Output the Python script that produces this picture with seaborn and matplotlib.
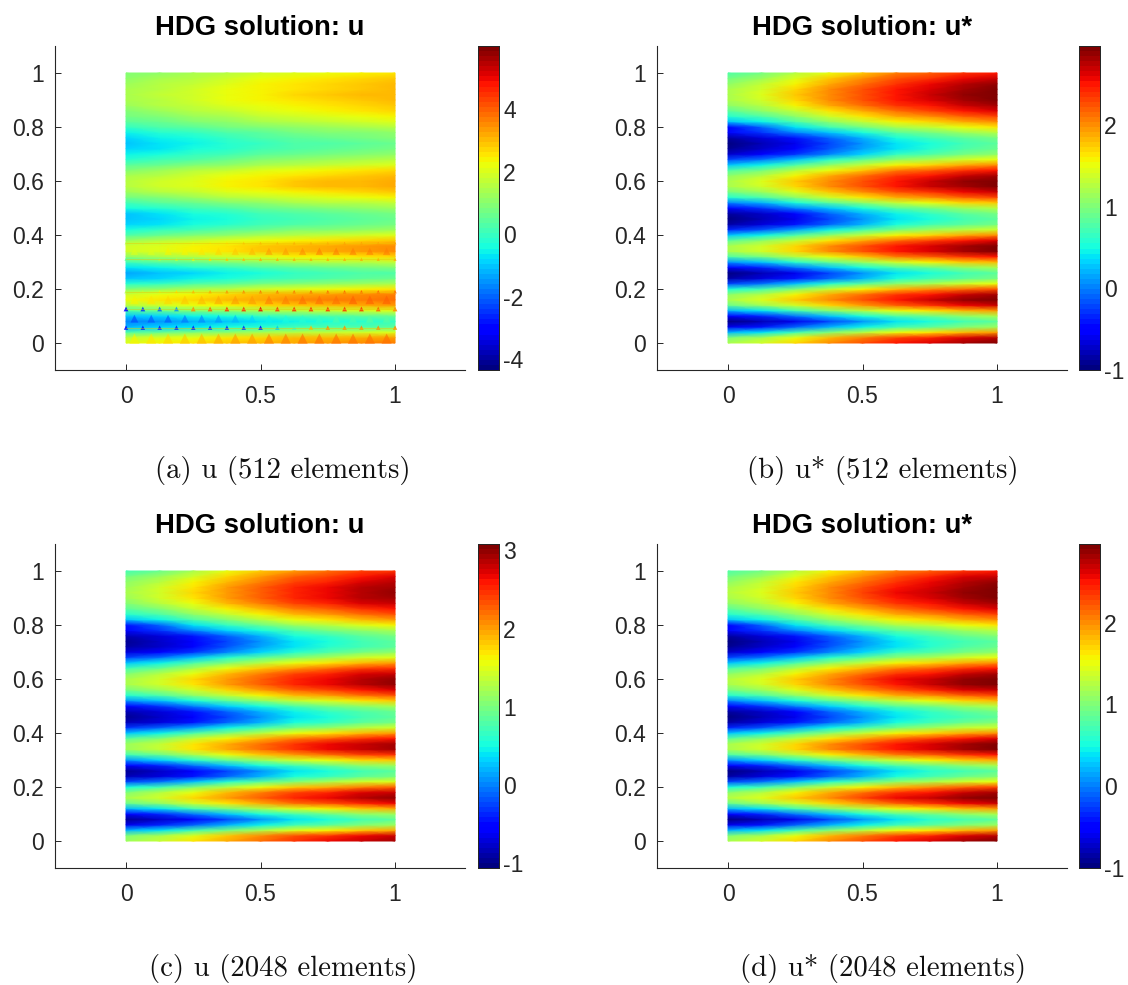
#!/usr/bin/env python3
"""HDG solution fields on coarse and fine meshes."""

import matplotlib
matplotlib.use("Agg")
import matplotlib.pyplot as plt
import seaborn as sns

# node values: rows run y = 0, 0.02, ... 1 (bottom to top),
# columns run x = 0, 0.125, ... 1
u_512 = [
    [2.05, 2.3, 2.55, 2.8, 3.05, 3.25, 3.4, 3.55, 3.7],
    [1.75, 2.0, 2.25, 2.5, 2.75, 2.95, 3.1, 3.25, 3.4],
    [0.35, 0.6, 0.85, 1.1, 1.35, 1.55, 1.7, 1.85, 2.0],
    [-1.15, -0.9, -0.65, -0.4, -0.15, 0.05, 0.2, 0.35, 0.5],
    [-1.75, -1.5, -1.25, -1.0, -0.75, -0.55, -0.4, -0.25, -0.1],
    [-1.05, -0.8, -0.55, -0.3, -0.05, 0.15, 0.3, 0.45, 0.6],
    [0.35, 0.6, 0.85, 1.1, 1.35, 1.55, 1.7, 1.85, 2.0],
    [1.65, 1.9, 2.15, 2.4, 2.65, 2.85, 3.0, 3.15, 3.3],
    [2.25, 2.5, 2.75, 3.0, 3.25, 3.45, 3.6, 3.75, 3.9],
    [1.95, 2.2, 2.45, 2.7, 2.95, 3.15, 3.3, 3.45, 3.6],
    [0.85, 1.1, 1.35, 1.6, 1.85, 2.05, 2.2, 2.35, 2.5],
    [-0.25, 0.0, 0.25, 0.5, 0.75, 0.95, 1.1, 1.25, 1.4],
    [-1.05, -0.8, -0.55, -0.3, -0.05, 0.15, 0.3, 0.45, 0.6],
    [-1.3, -1.05, -0.8, -0.55, -0.3, -0.1, 0.05, 0.2, 0.35],
    [-0.75, -0.5, -0.25, 0.0, 0.25, 0.45, 0.6, 0.75, 0.9],
    [0.15, 0.4, 0.65, 0.9, 1.15, 1.35, 1.5, 1.65, 1.8],
    [1.1, 1.35, 1.6, 1.85, 2.1, 2.3, 2.45, 2.6, 2.75],
    [1.85, 2.1, 2.35, 2.6, 2.85, 3.05, 3.2, 3.35, 3.5],
    [1.85, 2.1, 2.35, 2.6, 2.85, 3.05, 3.2, 3.35, 3.5],
    [1.25, 1.5, 1.75, 2.0, 2.25, 2.45, 2.6, 2.75, 2.9],
    [0.35, 0.6, 0.85, 1.1, 1.35, 1.55, 1.7, 1.85, 2.0],
    [-0.35, -0.1, 0.15, 0.4, 0.65, 0.85, 1.0, 1.15, 1.3],
    [-0.9, -0.65, -0.4, -0.15, 0.1, 0.3, 0.45, 0.6, 0.75],
    [-1.1, -0.85, -0.6, -0.35, -0.1, 0.1, 0.25, 0.4, 0.55],
    [-0.95, -0.7, -0.45, -0.2, 0.05, 0.25, 0.4, 0.55, 0.7],
    [-0.45, -0.2, 0.05, 0.3, 0.55, 0.75, 0.9, 1.05, 1.2],
    [0.15, 0.4, 0.65, 0.9, 1.15, 1.35, 1.5, 1.65, 1.8],
    [0.75, 1.0, 1.25, 1.5, 1.75, 1.95, 2.1, 2.25, 2.4],
    [1.25, 1.5, 1.75, 2.0, 2.25, 2.45, 2.6, 2.75, 2.9],
    [1.6, 1.85, 2.1, 2.35, 2.6, 2.8, 2.95, 3.1, 3.25],
    [1.6, 1.85, 2.1, 2.35, 2.6, 2.8, 2.95, 3.1, 3.25],
    [1.4, 1.65, 1.9, 2.15, 2.4, 2.6, 2.75, 2.9, 3.05],
    [1.0, 1.25, 1.5, 1.75, 2.0, 2.2, 2.35, 2.5, 2.65],
    [0.37, 0.62, 0.87, 1.12, 1.37, 1.57, 1.72, 1.87, 2.02],
    [-0.15, 0.1, 0.35, 0.6, 0.85, 1.05, 1.2, 1.35, 1.5],
    [-0.6, -0.35, -0.1, 0.15, 0.4, 0.6, 0.75, 0.9, 1.05],
    [-0.9, -0.65, -0.4, -0.15, 0.1, 0.3, 0.45, 0.6, 0.75],
    [-1.0, -0.75, -0.5, -0.25, 0.0, 0.2, 0.35, 0.5, 0.65],
    [-0.8, -0.55, -0.3, -0.05, 0.2, 0.4, 0.55, 0.7, 0.85],
    [-0.5, -0.25, 0.0, 0.25, 0.5, 0.7, 0.85, 1.0, 1.15],
    [-0.05, 0.2, 0.45, 0.7, 0.95, 1.15, 1.3, 1.45, 1.6],
    [0.37, 0.62, 0.87, 1.12, 1.37, 1.57, 1.72, 1.87, 2.02],
    [0.7, 0.95, 1.2, 1.45, 1.7, 1.9, 2.05, 2.2, 2.35],
    [1.0, 1.25, 1.5, 1.75, 2.0, 2.2, 2.35, 2.5, 2.65],
    [1.25, 1.5, 1.75, 2.0, 2.25, 2.45, 2.6, 2.75, 2.9],
    [1.4, 1.65, 1.9, 2.15, 2.4, 2.6, 2.75, 2.9, 3.05],
    [1.45, 1.7, 1.95, 2.2, 2.45, 2.65, 2.8, 2.95, 3.1],
    [1.4, 1.65, 1.9, 2.15, 2.4, 2.6, 2.75, 2.9, 3.05],
    [1.3, 1.55, 1.8, 2.05, 2.3, 2.5, 2.65, 2.8, 2.95],
    [1.15, 1.4, 1.65, 1.9, 2.15, 2.35, 2.5, 2.65, 2.8],
    [0.9, 1.15, 1.4, 1.65, 1.9, 2.1, 2.25, 2.4, 2.55],
]

# the fine u and both u* panels read the same within what the eye can tell
u_star = [
    [1.18, 1.38, 1.68, 1.98, 2.23, 2.48, 2.63, 2.81, 2.93],
    [1.01, 1.21, 1.51, 1.81, 2.06, 2.31, 2.46, 2.64, 2.76],
    [0.20, 0.40, 0.70, 1.00, 1.25, 1.50, 1.65, 1.83, 1.95],
    [-0.61, -0.41, -0.11, 0.19, 0.44, 0.69, 0.84, 1.02, 1.14],
    [-0.95, -0.80, -0.58, -0.25, 0.08, 0.40, 0.55, 0.72, 0.84],
    [-0.55, -0.35, -0.05, 0.25, 0.50, 0.75, 0.90, 1.08, 1.20],
    [0.20, 0.40, 0.70, 1.00, 1.25, 1.50, 1.65, 1.83, 1.95],
    [0.91, 1.11, 1.41, 1.71, 1.96, 2.21, 2.36, 2.54, 2.66],
    [1.23, 1.43, 1.73, 2.03, 2.28, 2.53, 2.68, 2.86, 2.98],
    [1.07, 1.27, 1.57, 1.87, 2.12, 2.37, 2.52, 2.70, 2.82],
    [0.53, 0.73, 1.03, 1.33, 1.58, 1.83, 1.98, 2.16, 2.28],
    [-0.23, -0.03, 0.27, 0.57, 0.82, 1.07, 1.22, 1.40, 1.52],
    [-0.82, -0.68, -0.42, -0.10, 0.20, 0.50, 0.68, 0.86, 0.98],
    [-0.95, -0.80, -0.58, -0.25, 0.08, 0.40, 0.55, 0.72, 0.84],
    [-0.55, -0.35, -0.05, 0.25, 0.50, 0.75, 0.90, 1.08, 1.20],
    [0.10, 0.30, 0.60, 0.90, 1.15, 1.40, 1.55, 1.73, 1.85],
    [0.74, 0.94, 1.24, 1.54, 1.79, 2.04, 2.19, 2.37, 2.49],
    [1.18, 1.38, 1.68, 1.98, 2.23, 2.48, 2.63, 2.81, 2.93],
    [1.18, 1.38, 1.68, 1.98, 2.23, 2.48, 2.63, 2.81, 2.93],
    [0.85, 1.05, 1.35, 1.65, 1.90, 2.15, 2.30, 2.48, 2.60],
    [0.26, 0.46, 0.76, 1.06, 1.31, 1.56, 1.71, 1.89, 2.01],
    [-0.34, -0.14, 0.16, 0.46, 0.71, 0.96, 1.11, 1.29, 1.41],
    [-0.82, -0.68, -0.42, -0.10, 0.20, 0.50, 0.68, 0.86, 0.98],
    [-0.95, -0.80, -0.58, -0.25, 0.08, 0.40, 0.55, 0.72, 0.84],
    [-0.85, -0.70, -0.45, -0.12, 0.20, 0.48, 0.63, 0.81, 0.93],
    [-0.50, -0.30, 0.00, 0.30, 0.55, 0.80, 0.95, 1.13, 1.25],
    [0.04, 0.24, 0.54, 0.84, 1.09, 1.34, 1.49, 1.67, 1.79],
    [0.58, 0.78, 1.08, 1.38, 1.63, 1.88, 2.03, 2.21, 2.33],
    [0.96, 1.16, 1.46, 1.76, 2.01, 2.26, 2.41, 2.59, 2.71],
    [1.21, 1.41, 1.71, 2.01, 2.26, 2.51, 2.66, 2.84, 2.96],
    [1.23, 1.43, 1.73, 2.03, 2.28, 2.53, 2.68, 2.86, 2.98],
    [1.07, 1.27, 1.57, 1.87, 2.12, 2.37, 2.52, 2.70, 2.82],
    [0.74, 0.94, 1.24, 1.54, 1.79, 2.04, 2.19, 2.37, 2.49],
    [0.26, 0.46, 0.76, 1.06, 1.31, 1.56, 1.71, 1.89, 2.01],
    [-0.23, -0.03, 0.27, 0.57, 0.82, 1.07, 1.22, 1.40, 1.52],
    [-0.70, -0.55, -0.30, 0.02, 0.33, 0.62, 0.79, 0.97, 1.09],
    [-0.90, -0.75, -0.50, -0.18, 0.13, 0.42, 0.57, 0.75, 0.87],
    [-0.95, -0.80, -0.58, -0.25, 0.08, 0.40, 0.55, 0.72, 0.84],
    [-0.82, -0.68, -0.42, -0.10, 0.20, 0.50, 0.68, 0.86, 0.98],
    [-0.50, -0.30, 0.00, 0.30, 0.55, 0.80, 0.95, 1.13, 1.25],
    [-0.45, -0.10, 0.38, 0.68, 0.93, 1.18, 1.33, 1.51, 1.63],
    [0.26, 0.46, 0.76, 1.06, 1.31, 1.56, 1.71, 1.89, 2.01],
    [0.58, 0.78, 1.08, 1.38, 1.63, 1.88, 2.03, 2.21, 2.33],
    [0.85, 1.05, 1.35, 1.65, 1.90, 2.15, 2.30, 2.48, 2.60],
    [1.07, 1.27, 1.57, 1.87, 2.12, 2.37, 2.52, 2.70, 2.82],
    [1.20, 1.40, 1.70, 2.00, 2.25, 2.50, 2.65, 2.83, 2.95],
    [1.23, 1.43, 1.73, 2.03, 2.28, 2.53, 2.68, 2.86, 2.98],
    [1.20, 1.40, 1.70, 2.00, 2.25, 2.50, 2.65, 2.83, 2.95],
    [1.10, 1.30, 1.60, 1.90, 2.15, 2.40, 2.55, 2.73, 2.85],
    [0.96, 1.16, 1.46, 1.76, 2.01, 2.26, 2.41, 2.59, 2.71],
    [0.74, 0.94, 1.24, 1.54, 1.79, 2.04, 2.19, 2.37, 2.49],
]

# mesh artefacts of the coarse u panel: spikes on the element corners x = k/16
spike_x = [k / 16 for k in range(17)]
spike_rows_y = [0.126, 0.057, 0.19, 0.31, 0.37]
spike_rows_val = [
    [-3, -2.5, -2, -1.5, 3.5, 4, 4.5, 4.5, 5, 4.5, 4.5, 4.5, 4.5, 4.5, 4.5, 4, 3.5],
    [-3, -2.8, -2.8, -2.8, -2.8, -2.6, -2.6, -2.6, -3.2, -1, 0, 3, 3.5, 3.5, 3.5, 3.5, 3.5],
    [1.5, 1.8, 2, 2.5, 3, 3.2, 3.5, 3.6, 3.8, 3.8, 3.8, 4, 4, 4, 4, 4, 4],
    [0.5, 0.8, 1.2, 1.5, 2, 2.5, 2.8, 3, 3.2, 3.2, 3.2, 3.2, 3.2, 3.2, 3.2, 3.2, 3.2],
    [1.5, 1.6, 1.8, 2, 2.2, 2.4, 2.6, 2.8, 3, 3.1, 3.2, 3.2, 3.2, 3.3, 3.3, 3.3, 3.3],
]
spike_sizes = [12, 10, 6, 5, 4]
# wide wedges inside the elements, x = (k + 0.5)/16
wedge_x = [(k + 0.5) / 16 for k in range(16)]
wedge_rows_y = [0.016, 0.16, 0.34, 0.09]
wedge_rows_val = [
    [2.4, 2.6, 2.7, 2.9, 3.0, 3.2, 3.3, 3.3, 3.6, 3.7, 3.8, 3.8, 3.9, 3.9, 3.9, 3.9],
    [2.3, 2.5, 2.7, 2.9, 3.1, 3.2, 3.3, 3.4, 3.6, 3.7, 3.8, 3.9, 3.9, 4.0, 4.0, 4.0],
    [2.0, 2.1, 2.3, 2.4, 2.6, 2.7, 2.9, 3.1, 3.3, 3.4, 3.5, 3.6, 3.7, 3.7, 3.7, 3.7],
    [-2.3, -2.2, -2.1, -1.9, -1.7, -1.5, -1.2, -0.9, -0.6, -0.4, -0.2, 0.0, 0.2, 0.3, 0.4, 0.5],
]
wedge_sizes = [55, 40, 28, 32]
seam_y = [0.126, 0.057, 0.19, 0.31, 0.37]

titles = ["HDG solution: u", "HDG solution: u*", "HDG solution: u", "HDG solution: u*"]
captions = ["(a) u (512 elements)", "(b) u* (512 elements)",
            "(c) u (2048 elements)", "(d) u* (2048 elements)"]
fields = [u_512, u_star, u_star, u_star]
color_lims = [(-4.35, 6.03), (-1.0, 2.97), (-1.06, 3.08), (-1.0, 2.96)]
color_ticks = [[-4, -2, 0, 2, 4], [-1, 0, 1, 2], [-1, 0, 1, 2, 3], [-1, 0, 1, 2]]
x_ticks = [0, 0.5, 1]
y_ticks = [0, 0.2, 0.4, 0.6, 0.8, 1]
x_tick_labels = ["0", "0.5", "1"]
y_tick_labels = ["0", "0.2", "0.4", "0.6", "0.8", "1"]

# pixel layout of the panels: axes left, axes top, colorbar left, caption centre
panel_px = [(55, 46, 478, 283), (657, 46, 1079, 883), (55, 544, 478, 283), (657, 544, 1079, 883)]
AX_W, AX_H, CB_W = 410, 324, 21
FIG_W, FIG_H = 1128, 985
DARK = "#262626"

sns.set_theme(style="white", rc={"axes.edgecolor": DARK, "axes.linewidth": 0.8})
plt.rcParams["font.family"] = ["Liberation Sans", "DejaVu Sans"]

jet = plt.get_cmap("jet", 64)
fig = plt.figure(figsize=(FIG_W / 100, FIG_H / 100), dpi=100)


def draw_artefacts(ax, nx, ny, norm):
    for y, vals, size in zip(wedge_rows_y, wedge_rows_val, wedge_sizes):
        sns.scatterplot(x=[v * nx for v in wedge_x], y=[y * ny] * len(wedge_x), hue=vals,
                        palette=jet, hue_norm=norm, marker="^", s=size, linewidth=0,
                        alpha=0.6, legend=False, ax=ax)
    for y in seam_y:
        sns.lineplot(x=[0, nx], y=[y * ny, y * ny], color="#f2c200", linewidth=0.6, alpha=0.5,
                     errorbar=None, ax=ax)
    for y, vals, size in zip(spike_rows_y, spike_rows_val, spike_sizes):
        sns.scatterplot(x=[v * nx for v in spike_x], y=[y * ny] * len(spike_x), hue=vals,
                        palette=jet, hue_norm=norm, marker="^", s=size, linewidth=0,
                        alpha=0.85, legend=False, ax=ax)


for i, field in enumerate(fields):
    left, top, cb_left, cap_x = panel_px[i]
    ax = fig.add_axes([left / FIG_W, 1 - (top + AX_H) / FIG_H, AX_W / FIG_W, AX_H / FIG_H])
    cax = fig.add_axes([cb_left / FIG_W, 1 - (top + AX_H) / FIG_H, CB_W / FIG_W, AX_H / FIG_H])
    vmin, vmax = color_lims[i]
    nx, ny = len(field[0]) - 1, len(field) - 1
    sns.heatmap(field, ax=ax, cbar_ax=cax, cmap=jet, vmin=vmin, vmax=vmax, shading="gouraud",
                xticklabels=False, yticklabels=False, cbar_kws={"ticks": color_ticks[i]})
    if i == 0:
        draw_artefacts(ax, nx, ny, (vmin, vmax))

    # seaborn flips y and fits limits to the cells, put the MATLAB style frame back
    ax.set_xlim(-0.264 * nx, 1.26 * nx)
    ax.set_ylim(-0.1 * ny, 1.1 * ny)
    ax.set_xticks([t * nx for t in x_ticks], x_tick_labels)
    ax.set_yticks([t * ny for t in y_ticks], y_tick_labels, rotation=0)
    ax.tick_params(direction="in", length=4, width=0.7, color=DARK, labelsize=16.5,
                   labelcolor=DARK, left=True, bottom=True, pad=11)
    ax.tick_params(axis="y", pad=8)
    sns.despine(ax=ax)
    ax.set_title(titles[i], fontsize=19.8, fontweight="bold", color="black", pad=8)

    cax.set_yticklabels([str(t) for t in color_ticks[i]])
    cax.tick_params(direction="in", length=2, width=0.7, color=DARK, labelsize=16.5,
                    labelcolor=DARK, right=True, pad=3)
    for spine in cax.spines.values():
        spine.set_visible(True)
        spine.set_linewidth(0.7)
        spine.set_color(DARK)

    fig.text(cap_x / FIG_W, 1 - (top + 424) / FIG_H, captions[i], family=["cmr10", "DejaVu Serif"],
             fontsize=20.7, ha="center", va="center", color="#111111")

fig.savefig("out.png", dpi=100)
